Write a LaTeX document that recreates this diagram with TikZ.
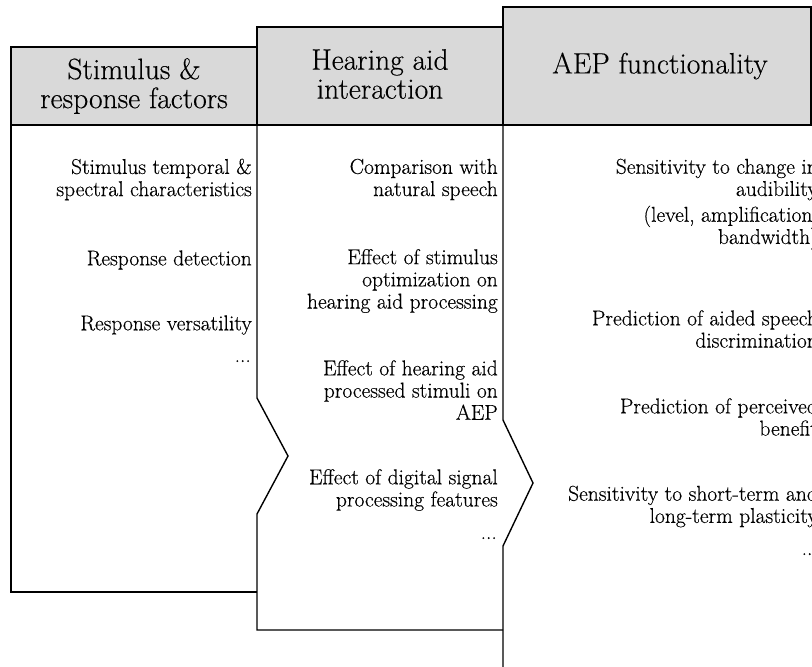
\documentclass[tikz,border=0pt]{standalone}
\usepackage{fontspec}
\setmainfont{Latin Modern Roman}[FakeBold=0.35]
\definecolor{hdrgray}{HTML}{D9D9D9}
\tikzset{
  hdrbox/.style={draw=black, fill=hdrgray, line width=1.4pt},
  coledge/.style={draw=black, line width=1.4pt, line join=miter},
  hdrtext/.style={font=\fontsize{29.5}{29}\selectfont, align=center, inner sep=0pt},
  item/.style={font=\fontsize{21.5}{22.2}\selectfont, align=right, anchor=east, inner sep=0pt},
  dots/.style={font=\fontsize{21.5}{22}\selectfont, anchor=base east, inner sep=0pt},
}
\begin{document}
\begin{tikzpicture}[x=1pt,y=-1pt]
\useasboundingbox (0,0) rectangle (812,667);
\clip (0,0) rectangle (812,667);
% headers
\draw[hdrbox] (11,47) rectangle (257,125);
\draw[hdrbox] (257,27) rectangle (503,125);
\draw[hdrbox] (503,7) rectangle (811,125);
\node[hdrtext] (h1) at (134,86) {Stimulus \&\\response factors};
\node[hdrtext] (h2) at (380,74) {Hearing aid\\interaction};
\node[hdrtext] (h3) at (660,66) {AEP functionality};
% column bodies
\draw[coledge] (11,125) -- (11,592) -- (257,592);
\draw[coledge] (257,125) -- (257,398) -- (288,456) -- (257,514) -- (257,630) -- (503,630);
\draw[coledge] (503,125) -- (503,420) -- (533,483) -- (503,546) -- (503,690);
% column 1 items
\node[item] (a1) at (252,179.5) {Stimulus temporal \&\\spectral characteristics};
\node[item] (a2) at (252,260) {Response detection};
\node[item] (a3) at (252,325) {Response versatility};
\node[dots] (a4) at (251,362) {...};
% column 2 items
\node[item] (b1) at (498,179.5) {Comparison with\\natural speech};
\node[item] (b2) at (498,281) {Effect of stimulus\\optimization on\\hearing aid processing};
\node[item] (b3) at (498,390) {Effect of hearing aid\\processed stimuli on\\AEP};
\node[item] (b4) at (498,490) {Effect of digital signal\\processing features};
\node[dots] (b5) at (497,539) {...};
% column 3 items
\node[item] (c1) at (818,179.5) {Sensitivity to change in\\audibility};
\node[item] (c2) at (818,227.5) {(level, amplification,\\bandwidth)};
\node[item] (c3) at (818,329) {Prediction of aided speech\\discrimination};
\node[item] (c4) at (818,417) {Prediction of perceived\\benefit};
\node[item] (c5) at (818,506.5) {Sensitivity to short-term and\\long-term plasticity};
\node[dots] (c6) at (818,555) {...};
\end{tikzpicture}
\end{document}
